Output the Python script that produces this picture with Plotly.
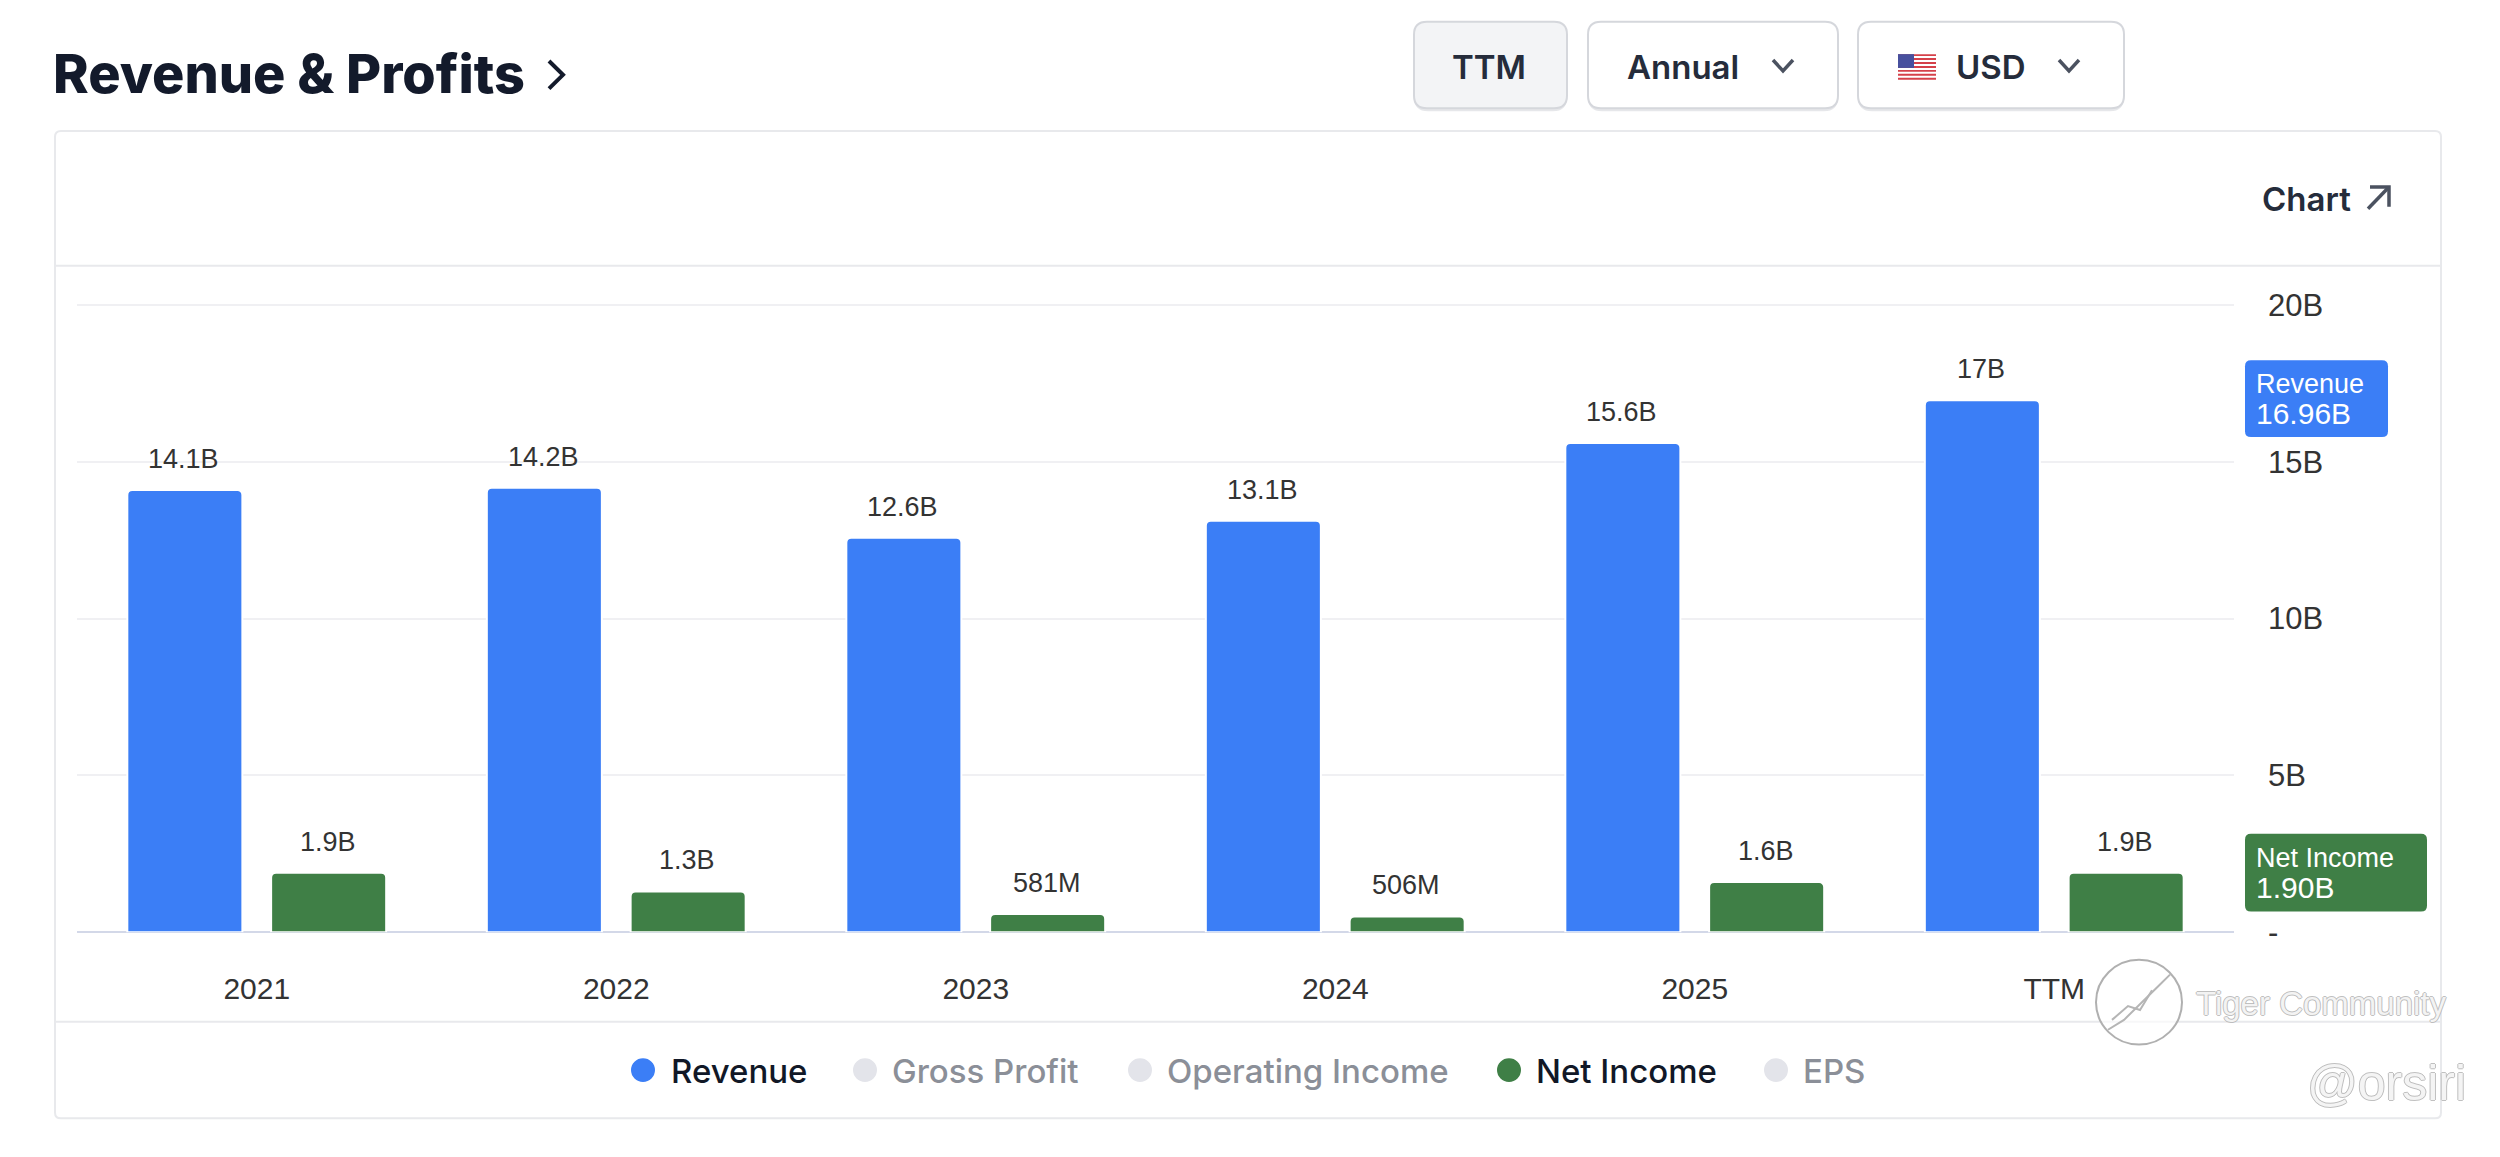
import plotly.graph_objects as go

W, H = 2500, 1157

categories = ["2021", "2022", "2023", "2024", "2025", "TTM"]
revenue = [14.1, 14.17, 12.58, 13.12, 15.6, 16.96]
net_income = [1.9, 1.3, 0.581, 0.506, 1.6, 1.9]
revenue_labels = ["14.1B", "14.2B", "12.6B", "13.1B", "15.6B", "17B"]
net_income_labels = ["1.9B", "1.3B", "581M", "506M", "1.6B", "1.9B"]
y_ticks = [0, 5, 10, 15, 20]
y_tick_labels = ["-", "5B", "10B", "15B", "20B"]

BLUE = "#3b7ef6"
GREEN = "#3f7f46"
LABEL = "Liberation Sans"
UI = "Inter"


def px(x):
    return x / W


def py(y):
    return 1 - y / H


shapes = []
annotations = []


def rect(x0, y0, x1, y1, fill="rgba(0,0,0,0)", line="rgba(0,0,0,0)", lw=0, r=0, layer="below"):
    if r:
        path = (f"M{px(x0+r)},{py(y0)} L{px(x1-r)},{py(y0)} Q{px(x1)},{py(y0)} {px(x1)},{py(y0+r)} "
                f"L{px(x1)},{py(y1-r)} Q{px(x1)},{py(y1)} {px(x1-r)},{py(y1)} "
                f"L{px(x0+r)},{py(y1)} Q{px(x0)},{py(y1)} {px(x0)},{py(y1-r)} "
                f"L{px(x0)},{py(y0+r)} Q{px(x0)},{py(y0)} {px(x0+r)},{py(y0)} Z")
        shapes.append(dict(type="path", path=path, xref="paper", yref="paper", fillcolor=fill,
                           line=dict(color=line, width=lw), layer=layer))
    else:
        shapes.append(dict(type="rect", x0=px(x0), x1=px(x1), y0=py(y0), y1=py(y1), xref="paper", yref="paper",
                           fillcolor=fill, line=dict(color=line, width=lw), layer=layer))


def polyline(points, color, lw, layer="above"):
    path = "M" + " L".join(f"{px(x)},{py(y)}" for x, y in points)
    shapes.append(dict(type="path", path=path, xref="paper", yref="paper",
                       line=dict(color=color, width=lw), layer=layer))


def circle(cx, cy, r, fill="rgba(0,0,0,0)", line="rgba(0,0,0,0)", lw=0, layer="above"):
    shapes.append(dict(type="circle", x0=px(cx-r), x1=px(cx+r), y0=py(cy+r), y1=py(cy-r), xref="paper", yref="paper",
                       fillcolor=fill, line=dict(color=line, width=lw), layer=layer))


def text(x, y, s, size, color="#111827", family=UI, weight=400, anchor="left", shadow=None):
    font = dict(size=size, color=color, family=family, weight=weight)
    if shadow:
        font["shadow"] = shadow
    annotations.append(dict(x=px(x), y=py(y), xref="paper", yref="paper", text=s, showarrow=False,
                            xanchor=anchor, yanchor="middle", font=font, borderpad=0))


# Page heading
text(52, 75, "Revenue &amp; Profits", 54, "#131a2b", UI, 800)
polyline([(549, 62), (563, 76), (549, 90)], "#131a2b", 4)

# Toolbar buttons
rect(1414, 24, 1567, 113, fill="#e6e7ea", r=14)
rect(1588, 24, 1838, 113, fill="#e6e7ea", r=14)
rect(1858, 24, 2124, 113, fill="#e6e7ea", r=14)
rect(1414, 22, 1567, 110, fill="#f3f4f6", line="#d5d7dc", lw=2, r=13)
rect(1588, 22, 1838, 110, fill="#ffffff", line="#d5d7dc", lw=2, r=13)
rect(1858, 22, 2124, 110, fill="#ffffff", line="#d5d7dc", lw=2, r=13)
text(1489, 68, "TTM", 33, "#252c3b", UI, 600, "center")
text(1626, 68, "Annual", 33, "#252c3b", UI, 600)
text(1955, 68, "USD", 33, "#252c3b", UI, 600)
polyline([(1773, 61), (1783, 72), (1793, 61)], "#4b5260", 3.5)
polyline([(2059, 61), (2069, 72), (2079, 61)], "#4b5260", 3.5)

# Flag
rect(1898, 55, 1936, 81, fill="#ffffff", layer="above")
for i in range(0, 7):
    top = 55 + i * 26 / 6.5
    rect(1898, top, 1936, top + 2, fill="#d5414a", layer="above")
rect(1898, 55, 1914, 69, fill="#47509e", layer="above")

# Card
rect(55, 133, 2441, 1136, fill="#ffffff", line="#e8e9ec", lw=2, r=6)
shapes.append(dict(type="line", x0=px(55), x1=px(2441), y0=py(270), y1=py(270), xref="paper", yref="paper",
                   line=dict(color="#e8e9ec", width=2), layer="below"))
shapes.append(dict(type="line", x0=px(55), x1=px(2441), y0=py(1038), y1=py(1038), xref="paper", yref="paper",
                   line=dict(color="#e8e9ec", width=2), layer="below"))
text(2261, 202, "Chart", 33, "#252c3b", UI, 600)
polyline([(2368, 212), (2388, 191)], "#4b5260", 3.5)
polyline([(2370, 190), (2389, 190), (2389, 210)], "#4b5260", 3.5)

# Value tags at the right of the plot
rect(2245, 366, 2388, 444, fill=BLUE, r=6, layer="above")
text(2255, 390, "Revenue", 27, "#ffffff", LABEL)
text(2255, 420, "16.96B", 30, "#ffffff", LABEL)
rect(2245, 847, 2427, 926, fill=GREEN, r=6, layer="above")
text(2255, 872, "Net Income", 27, "#ffffff", LABEL)
text(2255, 902, "1.90B", 30, "#ffffff", LABEL)

# Legend row
legend_rows = [
    (643, 670, "Revenue", BLUE, "#111827"),
    (865, 891, "Gross Profit", "#e3e4ea", "#8b8f98"),
    (1140, 1166, "Operating Income", "#e3e4ea", "#8b8f98"),
    (1509, 1535, "Net Income", GREEN, "#111827"),
    (1776, 1802, "EPS", "#e3e4ea", "#8b8f98"),
]
for dot_x, text_x, name, dot, col in legend_rows:
    circle(dot_x, 1087, 12, fill=dot)
    text(text_x, 1088, name, 33, col, UI, 500)

# Watermark
OUTLINE = "1px 0 #b5b5b5,-1px 0 #b5b5b5,0 1px #b5b5b5,0 -1px #b5b5b5"
circle(2139, 1018, 43, fill="rgba(255,255,255,0.65)", line="#b0b0b0", lw=2)
polyline([(2108, 1046), (2124, 1036), (2160, 1000), (2170, 990)], "#b5b5b5", 2)
polyline([(2112, 1036), (2128, 1022), (2140, 1026), (2152, 1006)], "#b5b5b5", 2)
text(2195, 1019, "Tiger Community", 33, "rgba(255,255,255,0.85)", LABEL, shadow=OUTLINE)
text(2306, 1100, "@orsiri", 50, "rgba(255,255,255,0.85)", LABEL, shadow=OUTLINE)

# Value labels above each bar, placed through the chart's axes
for i, (r_val, n_val) in enumerate(zip(revenue, net_income)):
    for x_off, val, lab in ((-0.2, r_val, revenue_labels[i]), (0.2, n_val, net_income_labels[i])):
        annotations.append(dict(x=i + x_off, y=val, xref="x", yref="y", text=lab, showarrow=False,
                                xanchor="center", yanchor="middle", yshift=31, xshift=-1,
                                font=dict(size=27, color="#333333", family=LABEL)))

fig = go.Figure()
for name, vals, color in (("Revenue", revenue, BLUE), ("Net Income", net_income, GREEN)):
    fig.add_trace(go.Bar(x=categories, y=vals, name=name,
                         marker=dict(color=color, cornerradius=5, line=dict(color="#ffffff", width=2))))

fig.update_layout(
    width=W, height=H, autosize=False,
    margin=dict(l=0, r=0, t=0, b=0, pad=0),
    paper_bgcolor="#ffffff", plot_bgcolor="rgba(0,0,0,0)",
    barmode="group", bargap=0.2, bargroupgap=0.2,
    showlegend=False, shapes=shapes, annotations=annotations,
    xaxis=dict(domain=[px(77), px(2234)], type="category", range=[-0.5, 5.5], showgrid=False,
               zeroline=False, showline=False, ticks="", ticklabelstandoff=36,
               tickfont=dict(size=30, color="#333333", family=LABEL)),
    yaxis=dict(domain=[py(947), py(281)], range=[0, 20.9], side="right", tickmode="array",
               tickvals=y_ticks, ticktext=y_tick_labels, showgrid=True, gridcolor="#f0f0f3", gridwidth=2,
               zeroline=True, zerolinecolor="#d3d8e8", zerolinewidth=2, showline=False, ticks="",
               ticklabelstandoff=33, tickfont=dict(size=31, color="#333333", family=LABEL)),
)

fig.write_html("out.html", config=dict(displayModeBar=False),
               post_script="document.body.style.margin='0';document.body.style.overflow='hidden';")
